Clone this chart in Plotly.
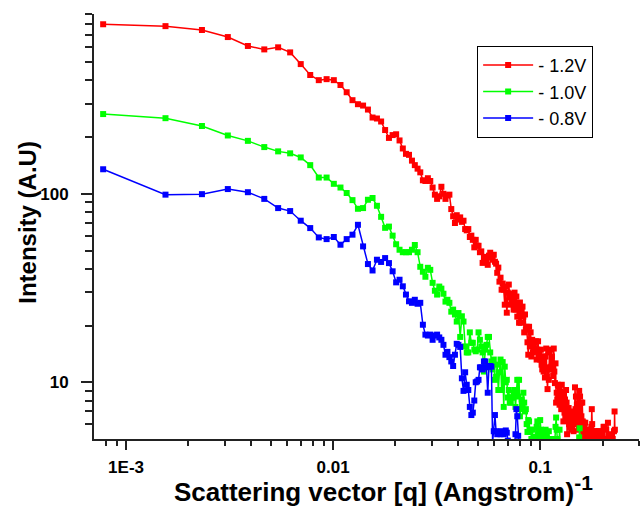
import numpy as np
import plotly.graph_objects as go

# Scattering vector grid: the detector bins are evenly spaced in q (1/Angstrom)
Q_STEP = 0.000775

# Intensity (A.U) per q-bin, one list per applied voltage
I_12V = [
    794, 776, 740, 679, 609, 584, 599, 563, 488, 427,
    401, 406, 401, 378, 346, 314, 299, 294, 280, 254,
    251, 242, 218, 198, 205, 207, 192, 174, 163, 161,
    150, 142, 136, 130, 118, 117, 121, 117, 108, 99,
    94, 97, 109, 100, 94, 98, 99, 83, 76, 70,
    77, 73, 75, 71, 72, 65, 64, 65, 59, 60,
    57, 52, 57, 53, 53, 49, 49.5, 43, 46, 46.3,
    43.6, 42, 47, 48.7, 46, 44.7, 47.5, 43.6, 42.6, 38.1,
    40.6, 34.2, 35.9, 31, 33.4, 31, 25.8, 32.2, 23.4, 29.9,
    33, 28.2, 25.8, 27.4, 29.5, 24.3, 29.9, 24.3, 28.5, 22.3,
    25.8, 20.7, 26.5, 20.7, 24.3, 25.2, 22.3, 18.4, 22.9, 19.0,
    19.7, 16.3, 14.0, 19.7, 15.5, 18.4, 13.7, 16.8, 14.4, 15.5,
    16.3, 14.6, 16.5, 13.2, 14.9, 16.5, 14.0, 14.4, 13.2, 14.9,
    12.4, 11.7, 13.2, 11.4, 13.7, 10.6, 13.7, 15.1, 10.7, 9.2,
    12.0, 10.3, 14.4, 11.7, 14.9, 12.1, 13.7, 11.7, 10.8, 15.1,
    11.4, 9.9, 12.6, 7.8, 8.8, 8.1, 9.7, 8.6, 9.5, 7.6,
    8.9, 8.3, 7.2, 9.7, 7.4, 8.8, 6.2, 8.6, 6.9, 8.1,
    6.5, 9.1, 7.8, 5.3, 7.2, 6.3, 7.3, 6.0, 6.7, 5.8,
    6.5, 5.6, 7.0, 5.8, 6.3, 6.6, 5.5, 6.7, 6.0, 9.4,
    7.2, 8.4, 6.1, 7.6, 8.4, 6.3, 7.6, 5.6, 9.0, 7.0,
    8.4, 6.0, 7.8, 6.6, 5.6, 7.8, 6.2, 5.3, 6.1, 5.0,
    5.8, 4.7, 6.1, 5.1, 4.4, 5.5, 4.7, 5.6, 4.2, 5.0,
    5.6, 4.6, 5.3, 4.3, 5.0, 4.0, 4.7, 5.8, 7.2, 6.0,
    4.7, 4.0, 5.0, 4.4, 5.5, 4.6, 5.2, 4.2, 5.5, 4.7,
    4.0, 5.0, 4.2, 5.4, 4.4, 3.7, 4.7, 5.5, 4.4, 5.2,
    4.2, 5.5, 4.7, 4.0, 5.0, 4.4, 5.3, 4.6, 3.9, 5.0,
    5.8, 4.7, 5.8, 4.4, 4.0, 5.0, 4.2, 4.7, 5.6, 4.4,
    3.7, 4.7, 4.2, 6.1, 5.0, 4.4, 4.0, 4.7, 4.2, 5.0,
    4.4, 3.7, 4.7, 5.3, 4.4, 4.0, 4.7, 4.2, 5.0, 4.4,
    4.0, 4.7, 5.5, 4.6, 7.0, 5.6,
]

I_10V = [
    265, 252, 229, 204, 191, 177, 168, 164, 156, 142,
    122, 122, 113, 108, 101, 92.6, 83.3, 84, 93, 95,
    86.4, 75.5, 66, 67, 60, 54, 50.5, 49, 49, 49,
    50.5, 53.5, 49, 41, 38.6, 36.3, 40.5, 39.5, 33.7, 30.6,
    29.2, 32.2, 31.4, 29.5, 26.8, 27.4, 26.4, 23.7, 24.3, 22.9,
    21, 23.3, 17.4, 22.4, 21, 15.5, 14.4, 14.4, 18.4, 16.2,
    16.2, 14.9, 14.6, 14.9, 18.4, 16.8, 15.5, 14.4, 11.4, 14.9,
    15.8, 17.4, 17.4, 14.4, 12.9, 11.7, 13.2, 10.3, 10.7, 12.4,
    9.1, 11.3, 13.2, 9.1, 12.8, 7.4, 12.1, 10.0, 10.3, 8.3,
    9.1, 7.8, 7.8, 8.3, 8.3, 8.8, 9.1, 7.4, 8.6, 10.3,
    8.4, 10.3, 6.6, 7.2, 8.1, 7.6, 8.8, 7.8, 7.0, 7.2,
    6.0, 5.45, 6.3, 6.2, 5.45, 5.6, 5.0, 5.6, 4.7, 5.0,
    4.4, 4.7, 5.15, 5.8, 6.2, 5.45, 5.0, 5.45, 6.3, 5.6,
    5.15, 4.7, 4.4, 5.0, 4.7, 5.5, 5.6, 5.3, 4.7, 4.4,
    4.7, 5.5, 5.0, 4.4, 4.1, 4.7, 4.4, 5.0, 4.5, 4.7,
    4.4, 5.0, 5.8, 6.5, 5.6, 5.0, 4.4, 4.1, 4.7, 5.6,
    4.7, 4.3, 4.5, 4.1, 4.6, 4.2, 4.8, 4.4, 4.0, 4.5,
    4.3, 4.7, 4.1, 4.4, 4.6, 4.0, 4.3, 4.8, 4.2, 4.5,
    4.1, 4.4, 4.7, 4.0, 4.3, 4.6, 4.2, 4.5, 4.1, 4.4,
    4.7, 4.3, 4.0, 4.5, 4.2, 4.6, 4.8, 4.4, 5.1, 5.7,
    4.6, 4.3, 4.5, 4.1, 4.4,
]

I_08V = [
    135, 99, 99.6, 106, 102, 94, 84, 81, 72, 65.8,
    58.7, 57.5, 59, 53.7, 57.5, 60.7, 68.5, 52.6, 42.4, 39.2,
    44.7, 43.5, 45.6, 42.9, 38.8, 33.9, 35, 32.3, 29.2, 26.9,
    26.4, 27.4, 26.1, 26.4, 20.2, 17.9, 17.7, 17.9, 16.8, 17.7,
    17.9, 17.3, 16.8, 15.8, 14.0, 14.5, 13.6, 12.9, 12.2, 14.0,
    16.0, 15.8, 15.4, 10.5, 9.0, 11.3, 9.7, 9.1, 7.4, 6.7,
    6.9, 8.0, 10.0, 10.1, 10.3, 12.0, 12.0, 11.7, 12.9, 12.9,
    12.0, 8.8, 12.1, 12.2, 12.1, 4.8, 5.5, 6.7, 5.5, 5.3,
    5.45, 5.4, 5.3, 5.5, 5.4, 5.3, 5.45, 5.55, 5.4, 4.9,
    4.6, 4.8, 4.5, 4.7, 4.6, 4.8, 4.7, 5.3, 7.2, 6.6,
    5.2, 4.6, 4.4,
]

SERIES = [
    ("- 1.2V", I_12V, "#FF0000"),
    ("- 1.0V", I_10V, "#00FF00"),
    ("- 0.8V", I_08V, "#0000FF"),
]

X_RANGE = [7e-4, 0.3]
Y_RANGE = [5, 900]
X_MAJOR = [1e-3, 1e-2, 1e-1]
X_MAJOR_TEXT = ["1E-3", "0.01", "0.1"]
Y_MAJOR = [10, 100]
Y_MAJOR_TEXT = ["10", "100"]
X_MINOR = [8e-4, 9e-4] + [k * 1e-3 for k in range(2, 10)] + \
          [k * 1e-2 for k in range(2, 10)] + [0.2, 0.3]
Y_MINOR = [6, 7, 8, 9] + [k * 10 for k in range(2, 10)] + [k * 100 for k in range(2, 10)]

FONT = "Arial, 'Liberation Sans', sans-serif"
AXIS_COLOR = "#222222"

fig = go.Figure()
for name, vals, color in SERIES:
    n = len(vals)
    q = Q_STEP * np.arange(1, n + 1)
    fig.add_trace(go.Scatter(
        x=q, y=vals, name=name, mode="lines+markers",
        line=dict(color=color, width=1.5),
        marker=dict(symbol="square", size=6, color=color, line=dict(width=0)),
    ))


def log_range(r):
    return [float(np.log10(r[0])), float(np.log10(r[1]))]


common = dict(type="log", showgrid=False, zeroline=False, showline=True,
              linecolor=AXIS_COLOR, linewidth=2, tickcolor=AXIS_COLOR, tickwidth=1.5)

fig.update_layout(
    width=640, height=511,
    margin=dict(l=94, r=1, t=14, b=72),
    paper_bgcolor="white", plot_bgcolor="white",
    font=dict(family=FONT, color="black"),
    showlegend=True,
    legend=dict(
        x=0.703, y=0.925, xanchor="left", yanchor="top",
        bgcolor="white", bordercolor="black", borderwidth=1,
        font=dict(family=FONT, size=18, color="black"),
        itemwidth=50, tracegroupgap=0,
    ),
    xaxis=dict(
        **common, range=log_range(X_RANGE),
        tickmode="array", tickvals=X_MAJOR, ticktext=X_MAJOR_TEXT,
        ticks="outside", ticklen=9,
        minor=dict(tickvals=X_MINOR, ticks="outside", ticklen=5,
                   tickcolor=AXIS_COLOR, tickwidth=1.5, showgrid=False),
        tickfont=dict(family=FONT, size=17, weight="bold"),
        ticklabelstandoff=3,
    ),
    yaxis=dict(
        **common, range=log_range(Y_RANGE),
        tickmode="array", tickvals=Y_MAJOR, ticktext=Y_MAJOR_TEXT,
        ticksuffix="\u00a0\u00a0",
        ticks="outside", ticklen=11,
        minor=dict(tickvals=Y_MINOR, ticks="outside", ticklen=7,
                   tickcolor=AXIS_COLOR, tickwidth=1.5, showgrid=False),
        tickfont=dict(family=FONT, size=17, weight="bold"),
        ticklabelstandoff=9,
    ),
    # frame on top and right with inward ticks
    xaxis2=dict(
        **common, range=log_range(X_RANGE), overlaying="x", side="top", anchor="y",
        tickmode="array", tickvals=X_MAJOR, ticktext=["", "", ""],
        ticks="inside", ticklen=9, showticklabels=False,
        minor=dict(tickvals=X_MINOR, ticks="inside", ticklen=5,
                   tickcolor=AXIS_COLOR, tickwidth=1.5, showgrid=False),
    ),
    yaxis2=dict(
        **common, range=log_range(Y_RANGE), overlaying="y", side="right", anchor="x",
        tickmode="array", tickvals=Y_MAJOR, ticktext=["", ""],
        ticks="inside", ticklen=11, showticklabels=False,
        minor=dict(tickvals=Y_MINOR, ticks="inside", ticklen=7,
                   tickcolor=AXIS_COLOR, tickwidth=1.5, showgrid=False),
    ),
)

# axis titles, placed in the margins
fig.add_annotation(
    text="Scattering vector [q] (Angstrom)"
         "<sup><span style='font-size:21px'>-1</span></sup>",
    showarrow=False, xref="paper", yref="paper", x=0.532, y=-0.118,
    xanchor="center", yanchor="middle",
    font=dict(family=FONT, size=26, weight="bold", color="black"),
)
fig.add_annotation(
    text="Intensity (A.U)", textangle=-90, showarrow=False,
    xref="paper", yref="paper", x=-0.121, y=0.509,
    xanchor="center", yanchor="middle",
    font=dict(family=FONT, size=24, weight="bold", color="black"),
)

fig.write_html("out.html")
